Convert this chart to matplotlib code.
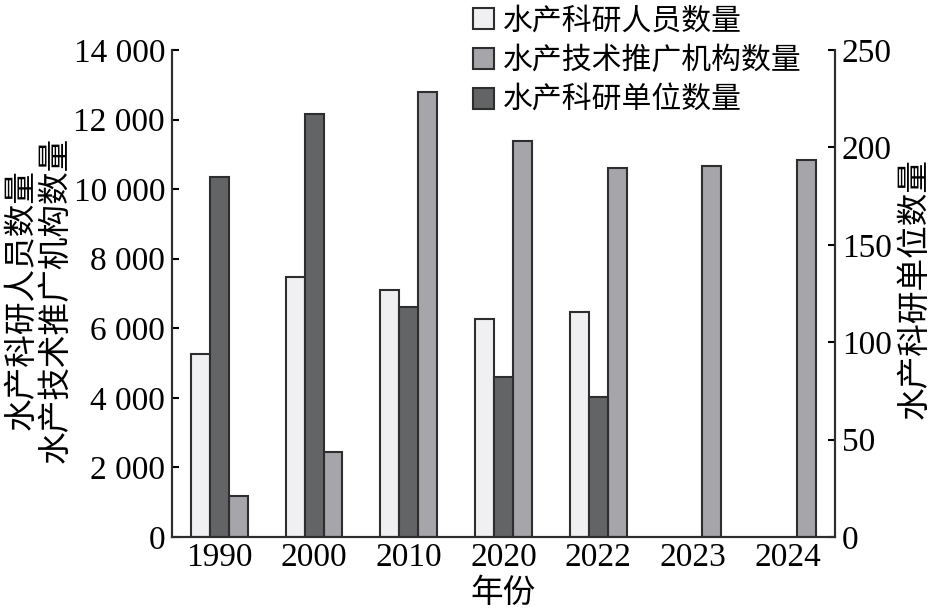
import numpy as np
import matplotlib
matplotlib.use('Agg')
import matplotlib.pyplot as plt
from matplotlib.ticker import FuncFormatter, MultipleLocator

plt.rcParams['font.family'] = ['Liberation Serif', 'Noto Sans CJK SC']

years = ['1990', '2000', '2010', '2020', '2022', '2023', '2024']
staff = [5270, 7480, 7095, 6260, 6470, np.nan, np.nan]         # 水产科研人员数量
agencies = [1190, 2450, 12800, 11375, 10615, 10665, 10835]     # 水产技术推广机构数量
institutes = [185, 217, 118, 82, 72, np.nan, np.nan]           # 水产科研单位数量

c_light = '#f0f0f2'
c_mid = '#a6a5a9'
c_dark = '#636466'
edge = '#2e2e2e'
fs_num = 24
fs_cjk = 23.5
fs_leg = 21.5

fig = plt.figure(figsize=(9.36, 6.09), dpi=100)
ax = fig.add_axes([0.1838, 0.1182, 0.7082, 0.7998])
ax2 = ax.twinx()

x = np.arange(len(years))
w = 0.2
b1 = ax.bar(x - w, staff, w, color=c_light, edgecolor=edge, linewidth=1.5)
b3 = ax.bar(x + w, agencies, w, color=c_mid, edgecolor=edge, linewidth=1.5)
b2 = ax2.bar(x, institutes, w, color=c_dark, edgecolor=edge, linewidth=1.5)

ax.set_xlim(-0.5, 6.5)
ax.set_ylim(0, 14000)
ax2.set_ylim(0, 250)
ax.yaxis.set_major_locator(MultipleLocator(2000))
ax2.yaxis.set_major_locator(MultipleLocator(50))
ax.yaxis.set_major_formatter(FuncFormatter(lambda v, p: f'{v:,.0f}'.replace(',', ' ')))

ax.set_xticks(x)
ax.set_xticklabels(years)
for a in (ax, ax2):
    a.spines['top'].set_visible(False)
    for s in a.spines.values():
        s.set_linewidth(1.5)
        s.set_color(edge)
    a.tick_params(axis='y', direction='in', length=5, width=1.5,
                  labelsize=fs_num, pad=5, colors='black')
ax.tick_params(axis='x', length=0, labelsize=fs_num, pad=4)

ax.set_ylabel('水产科研人员数量\n水产技术推广机构数量', fontsize=fs_cjk,
              linespacing=1.12)
ax.yaxis.set_label_coords(-0.152, 0.487)
ax2.set_ylabel('水产科研单位数量', fontsize=fs_cjk)
ax2.yaxis.set_label_coords(1.098, 0.511)
ax.set_xlabel('年份', fontsize=fs_cjk, labelpad=4)

fig.legend([b1, b3, b2], ['水产科研人员数量', '水产技术推广机构数量', '水产科研单位数量'],
           loc='upper left', bbox_to_anchor=(452 / 936, 1.022), frameon=False,
           fontsize=fs_leg, handlelength=0.7, handleheight=0.7, handletextpad=0.3,
           labelspacing=0.38, borderpad=0.2)

fig.savefig('out.png', dpi=100)
